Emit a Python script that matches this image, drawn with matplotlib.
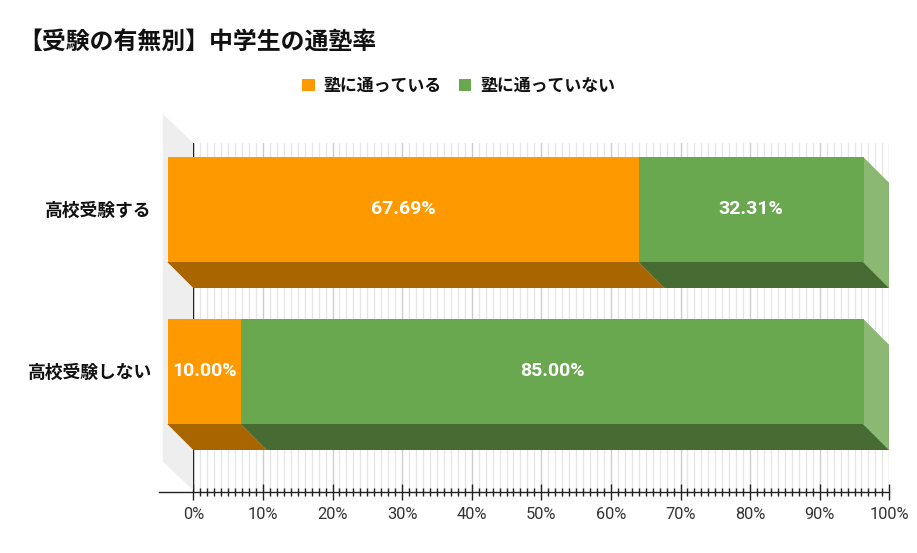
import matplotlib
matplotlib.use('Agg')
import matplotlib.pyplot as plt
from matplotlib.patches import Polygon, Patch
from matplotlib.transforms import ScaledTranslation

plt.rcParams['font.family'] = ['Noto Sans CJK JP', 'DejaVu Sans']

title = '【受験の有無別】中学生の通塾率'
categories = ['高校受験する', '高校受験しない']
series_names = ['塾に通っている', '塾に通っていない']
going = [67.69, 10.00]
not_going = [32.31, 85.00]
x_ticks = [0, 10, 20, 30, 40, 50, 60, 70, 80, 90, 100]

ORANGE = '#ff9900'
GREEN = '#6aa84f'
ORANGE_DARK = '#a86500'
GREEN_DARK = '#466b33'
GREEN_SIDE = '#8bb973'
WALL = '#eeeeee'

W, H = 917, 553
fig = plt.figure(figsize=(W / 100, H / 100), dpi=100)
# plot box in pixels: x 193.3-889.3, y 143-492
ax = fig.add_axes([193.3 / W, 1 - 492 / H, 696 / W, 349 / H])
ax.set_xlim(0, 100)
rows = [0, 1]
row_px = 162.0
ax.set_ylim((492 - 235.5) / row_px, (143 - 235.5) / row_px)

# depth of the fake 3d effect, same in both directions
depth = 26
dx = depth / 6.96
dy = depth / row_px
bar_h = 105 / row_px
front = ax.transData + ScaledTranslation(-25.6 / 100, depth / 100, fig.dpi_scale_trans)

ax.set_xticks(x_ticks)
ax.set_xticks(range(0, 101), minor=True)
ax.xaxis.set_major_formatter(lambda v, p: '%d%%' % v)
ax.grid(True, axis='x', which='major', color='#cccccc', lw=1, zorder=0)
ax.grid(True, axis='x', which='minor', color='#e6e6e6', lw=1, zorder=0)
ax.set_axisbelow(True)
ax.axvline(0, color='#222222', lw=1, zorder=1.7)
ax.tick_params(axis='x', which='major', length=6, width=1, color='#222222', pad=8,
               direction='inout', labelsize=11.8, labelcolor='#333333', labelfontfamily='Roboto')
ax.tick_params(axis='x', which='minor', length=6, width=1, color='#222222', direction='inout')
for t in ax.xaxis.get_major_ticks():
    t.tick1line.set_markersize(12)
for s in ax.spines.values():
    s.set_visible(False)
ax.plot([-34 / 6.96, 100], [ax.get_ylim()[0]] * 2, color='#222222', lw=1, clip_on=False, zorder=3)

# left wall
top, bottom = ax.get_ylim()[1], ax.get_ylim()[0]
ax.add_patch(Polygon([(-dx * 30.5 / 26, top - 29 / row_px), (0, top),
                      (0, bottom - 1.5 / row_px), (-dx * 30.5 / 26, bottom - 30.5 / row_px)],
                     closed=True, fc=WALL, ec='none', clip_on=False, zorder=1.5))

ax.set_yticks([r - dy - 1 / row_px for r in rows])
ax.set_yticklabels(categories, fontsize=12.8, fontweight='bold', color='#111111')
ax.tick_params(axis='y', length=0, pad=30)

for r, a, b in zip(rows, going, not_going):
    total = a + b
    sa = a / total * 100
    y_front = r - dy + bar_h / 2
    y_back = r + bar_h / 2
    # bottom faces
    ax.add_patch(Polygon([(-dx, y_front), (sa - dx, y_front), (sa, y_back), (0, y_back)],
                         closed=True, fc=ORANGE_DARK, ec='none', zorder=2, clip_on=False))
    ax.add_patch(Polygon([(sa - dx, y_front), (100 - dx, y_front), (100, y_back), (sa, y_back)],
                         closed=True, fc=GREEN_DARK, ec='none', zorder=2))
    # right face
    ax.add_patch(Polygon([(100 - dx, y_front), (100, y_back), (100, y_back - bar_h),
                          (100 - dx, y_front - bar_h)],
                         closed=True, fc=GREEN_SIDE, ec='none', zorder=2))
    # front faces
    ax.barh(r, sa, height=bar_h, color=ORANGE, transform=front, zorder=4, clip_on=False)
    ax.barh(r, 100 - sa, left=sa, height=bar_h, color=GREEN, transform=front, zorder=4, clip_on=False)
    for mid, v in ((sa / 2, a), (sa + (100 - sa) / 2, b)):
        ax.text(mid, r, '%.2f%%' % v, transform=front, ha='center', va='center',
                color='white', fontsize=14, fontweight='bold', family='Roboto', zorder=5)

fig.text(18 / W, 1 - 42 / H, title, fontsize=17.2, fontweight='bold', color='#111111',
         ha='left', va='center')

handles = [Patch(fc=ORANGE, ec='none'), Patch(fc=GREEN, ec='none')]
fig.legend(handles, series_names, ncol=2, loc='center', bbox_to_anchor=(458.5 / W, 1 - 86 / H),
           frameon=False, handlelength=0.75, handleheight=0.75, handletextpad=0.52,
           columnspacing=1.0, labelcolor='#111111', prop={'weight': 'bold', 'size': 12.2})

fig.savefig('out.png', dpi=100)
